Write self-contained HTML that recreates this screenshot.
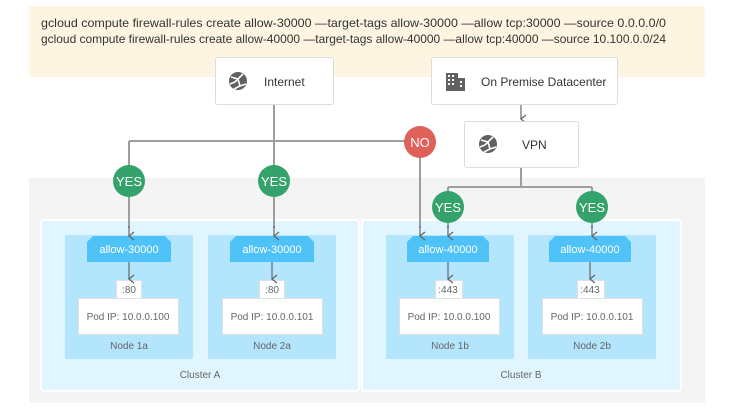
<!DOCTYPE html>
<html><head><meta charset="utf-8"><style>
body{margin:0;background:#fff;}
svg{display:block;font-family:"Liberation Sans",sans-serif;}
</style></head><body>
<svg width="736" height="414" viewBox="0 0 736 414" xmlns="http://www.w3.org/2000/svg">
<defs>
<marker id="ar" markerWidth="10" markerHeight="10" refX="5" refY="7" orient="auto-start-reverse" markerUnits="userSpaceOnUse" viewBox="0 0 10 10">
<path d="M1,2 L5,7 L9,2" fill="none" stroke="#666" stroke-width="1.3"/>
</marker>
<g id="globe">
<circle cx="0" cy="0" r="9" fill="#616161"/>
<path d="M-7,-4 L0,-2 L5,-7 M0,-2 L2,5 L-4,8 M2,5 L8,3 M-8,3 L-3,1 L0,-2" stroke="#fff" stroke-width="1.6" fill="none"/>
</g>
</defs>
<rect x="29" y="6" width="676" height="71" rx="2" fill="#fdf5e2"/>
<text x="41" y="27" font-size="12" fill="#333" textLength="625" lengthAdjust="spacingAndGlyphs">gcloud compute firewall-rules create allow-30000 —target-tags allow-30000 —allow tcp:30000 —source 0.0.0.0/0</text>
<text x="41" y="43" font-size="12" fill="#333" textLength="625" lengthAdjust="spacingAndGlyphs">gcloud compute firewall-rules create allow-40000 —target-tags allow-40000 —allow tcp:40000 —source 10.100.0.0/24</text>
<rect x="29" y="178" width="676" height="225" fill="#f4f4f4"/>
<rect x="41" y="220" width="318" height="171" rx="3" fill="#e1f5fe" stroke="#fff" stroke-width="2"/>
<rect x="362" y="220" width="319" height="171" rx="3" fill="#e1f5fe" stroke="#fff" stroke-width="2"/>
<text x="200" y="378" font-size="10" fill="#666" text-anchor="middle">Cluster A</text>
<text x="521" y="378" font-size="10" fill="#666" text-anchor="middle">Cluster B</text>
<g font-size="10" text-anchor="middle">
<g transform="translate(65,0)">
<rect x="0" y="235" width="128" height="124" rx="2" fill="#b3e5fc"/>
<path d="M22,262 L22,242 L28,236 L100,236 L106,242 L106,262 Z" fill="#4fc3f7"/>
<text x="64" y="253" fill="#fff" font-size="11">allow-30000</text>
<rect x="51.5" y="280.5" width="25" height="18" fill="#fff" stroke="#e0e0e0"/><text x="64" y="293" fill="#666">:80</text>
<rect x="13.5" y="298.5" width="100" height="36" fill="#fff" stroke="#e0e0e0"/><text x="63" y="320" fill="#666">Pod IP: 10.0.0.100</text>
<text x="64" y="349" fill="#666">Node 1a</text>
<line x1="64" y1="262" x2="64" y2="279" stroke="#666" stroke-width="1.2" marker-end="url(#ar)"/>
</g>
<g transform="translate(208,0)">
<rect x="0" y="235" width="128" height="124" rx="2" fill="#b3e5fc"/>
<path d="M22,262 L22,242 L28,236 L100,236 L106,242 L106,262 Z" fill="#4fc3f7"/>
<text x="64" y="253" fill="#fff" font-size="11">allow-30000</text>
<rect x="51.5" y="280.5" width="25" height="18" fill="#fff" stroke="#e0e0e0"/><text x="64" y="293" fill="#666">:80</text>
<rect x="14.5" y="298.5" width="100" height="36" fill="#fff" stroke="#e0e0e0"/><text x="64" y="320" fill="#666">Pod IP: 10.0.0.101</text>
<text x="64" y="349" fill="#666">Node 2a</text>
<line x1="64" y1="262" x2="64" y2="279" stroke="#666" stroke-width="1.2" marker-end="url(#ar)"/>
</g>
<g transform="translate(386,0)">
<rect x="0" y="235" width="128" height="124" rx="2" fill="#b3e5fc"/>
<path d="M21,262 L21,242 L27,236 L97,236 L103,242 L103,262 Z" fill="#4fc3f7"/>
<text x="62" y="253" fill="#fff" font-size="11">allow-40000</text>
<rect x="49.5" y="280.5" width="27" height="18" fill="#fff" stroke="#e0e0e0"/><text x="62" y="293" fill="#666">:443</text>
<rect x="13.5" y="298.5" width="100" height="36" fill="#fff" stroke="#e0e0e0"/><text x="63" y="320" fill="#666">Pod IP: 10.0.0.100</text>
<text x="64" y="349" fill="#666">Node 1b</text>
<line x1="62" y1="262" x2="62" y2="279" stroke="#666" stroke-width="1.2" marker-end="url(#ar)"/>
</g>
<g transform="translate(528,0)">
<rect x="0" y="235" width="128" height="124" rx="2" fill="#b3e5fc"/>
<path d="M21,262 L21,242 L27,236 L97,236 L103,242 L103,262 Z" fill="#4fc3f7"/>
<text x="62" y="253" fill="#fff" font-size="11">allow-40000</text>
<rect x="49.5" y="280.5" width="27" height="18" fill="#fff" stroke="#e0e0e0"/><text x="62" y="293" fill="#666">:443</text>
<rect x="14.5" y="298.5" width="100" height="36" fill="#fff" stroke="#e0e0e0"/><text x="64" y="320" fill="#666">Pod IP: 10.0.0.101</text>
<text x="64" y="349" fill="#666">Node 2b</text>
<line x1="62" y1="262" x2="62" y2="279" stroke="#666" stroke-width="1.2" marker-end="url(#ar)"/>
</g>
</g>
<g stroke="#9e9e9e" stroke-width="2" fill="none">
<path d="M274,104 L274,228"/>
<path d="M129,141 L420,141"/>
<path d="M129,141 L129,228"/>
<path d="M420,141 L420,228"/>
<path d="M521,167 L521,187 M448,187 L592,187 M448,187 L448,228 M592,187 L592,228"/>
</g>
<g stroke="#666" stroke-width="1.2" fill="none">
<line x1="129" y1="226" x2="129" y2="236" marker-end="url(#ar)"/>
<line x1="274" y1="226" x2="274" y2="236" marker-end="url(#ar)"/>
<line x1="420" y1="226" x2="420" y2="236" marker-end="url(#ar)"/>
<line x1="448" y1="226" x2="448" y2="236" marker-end="url(#ar)"/>
<line x1="592" y1="226" x2="592" y2="236" marker-end="url(#ar)"/>
<line x1="521" y1="104" x2="521" y2="119" marker-end="url(#ar)"/>
</g>
<rect x="215.5" y="57.5" width="118" height="47" rx="2" fill="#fff" stroke="#ddd"/>
<use href="#globe" x="238" y="81"/>
<text x="264" y="86" font-size="12" fill="#333">Internet</text>
<rect x="431.5" y="57.5" width="186" height="47" rx="2" fill="#fff" stroke="#ddd"/>
<g fill="#616161"><rect x="446" y="73" width="12" height="18"/><rect x="458" y="78" width="7" height="13"/></g>
<g fill="#fff"><rect x="448" y="75" width="2" height="2"/><rect x="452" y="75" width="2" height="2"/><rect x="448" y="79" width="2" height="2"/><rect x="452" y="79" width="2" height="2"/><rect x="448" y="83" width="2" height="2"/><rect x="452" y="83" width="2" height="2"/><rect x="460" y="81" width="2" height="2"/><rect x="460" y="85" width="2" height="2"/></g>
<text x="481" y="86" font-size="12" fill="#333">On Premise Datacenter</text>
<rect x="464.5" y="121.5" width="114" height="46" rx="2" fill="#fff" stroke="#ddd"/>
<use href="#globe" x="488" y="144"/>
<text x="522" y="149" font-size="12" fill="#333">VPN</text>
<g font-size="13" fill="#fff" text-anchor="middle">
<circle cx="129" cy="181" r="16" fill="#33a36b"/><text x="129" y="186">YES</text>
<circle cx="274" cy="181" r="16" fill="#33a36b"/><text x="274" y="186">YES</text>
<circle cx="448" cy="207" r="16" fill="#33a36b"/><text x="448" y="212">YES</text>
<circle cx="592" cy="207" r="16" fill="#33a36b"/><text x="592" y="212">YES</text>
<circle cx="420" cy="142" r="16" fill="#e0605a"/><text x="420" y="147">NO</text>
</g>
</svg>
</body></html>
